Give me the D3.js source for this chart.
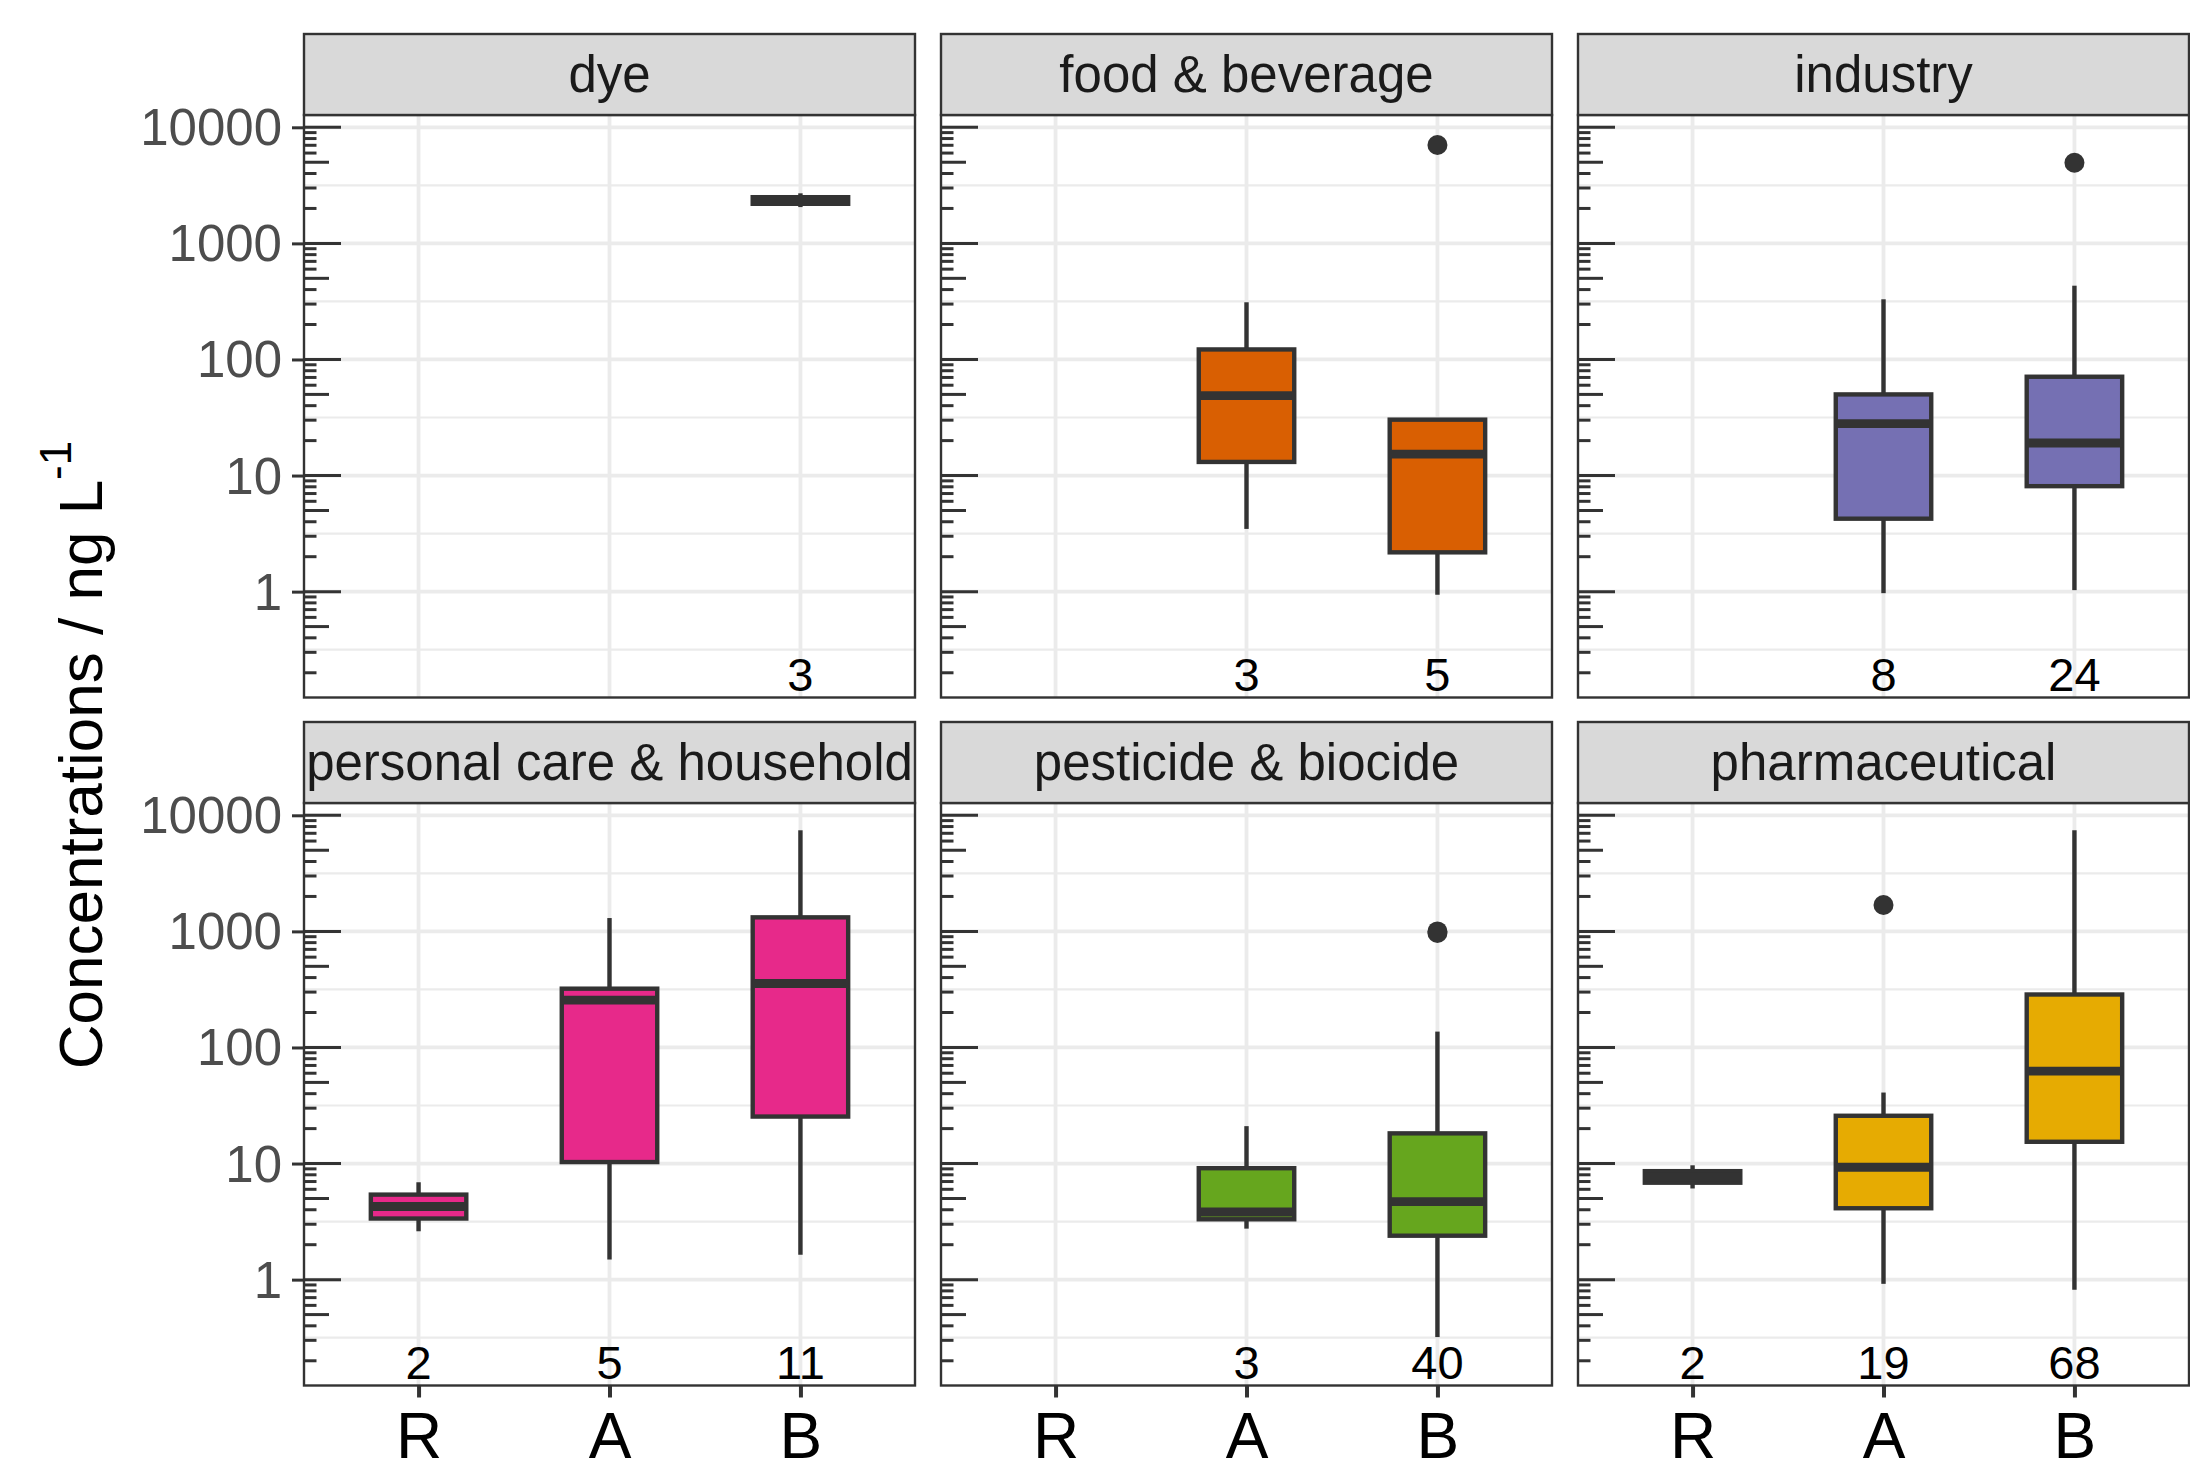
<!DOCTYPE html>
<html>
<head>
<meta charset="utf-8">
<script src="https://cdn.jsdelivr.net/npm/d3@7"></script>
<style>
  html, body { margin: 0; padding: 0; background: #ffffff; }
  svg { display: block; }
</style>
</head>
<body>
<script>
// Facets, sampling sites and colours
const panels = ["dye", "food & beverage", "industry", "personal care & household", "pesticide & biocide", "pharmaceutical"];
const panelColors = ["#1B9E77", "#D95F02", "#7570B3", "#E7298A", "#66A61E", "#E6AB02"];
const sites = ["R", "A", "B"];

// Box statistics for each facet / site group (ng L-1, computed on the log scale)
const groupPanel = ["dye", "food & beverage", "food & beverage", "industry", "industry",
  "personal care & household", "personal care & household", "personal care & household",
  "pesticide & biocide", "pesticide & biocide", "pharmaceutical", "pharmaceutical", "pharmaceutical"];
const groupSite   = ["B", "A", "B", "A", "B", "R", "A", "B", "A", "B", "R", "A", "B"];
const whiskerLow  = [2055, 3.47, 0.94, 0.97, 1.03, 2.61, 1.49, 1.64, 2.75, 0.32, 6.1, 0.92, 0.82];
const quartile1   = [2193, 13.1, 2.18, 4.25, 8.1, 3.36, 10.3, 25.4, 3.31, 2.39, 6.84, 4.12, 15.4];
const medians     = [2340, 48.8, 15.3, 28, 19.1, 4.26, 256, 356, 3.83, 4.70, 7.68, 9.29, 62.5];
const quartile3   = [2500, 122, 30.3, 50, 71, 5.4, 321, 1321, 9.12, 18.2, 8.6, 25.8, 286];
const whiskerHigh = [2700, 311, 30.3, 330, 432, 6.9, 1303, 7430, 21, 137, 9.66, 40.9, 7430];
const outlierValues = [[], [], [7040], [], [4955], [], [], [], [], [1000, 970], [], [1686], []];
const sampleCounts = [3, 3, 5, 8, 24, 2, 5, 11, 3, 40, 2, 19, 68];

// Axis breaks
const majorBreaks = [1, 10, 100, 1000, 10000];
const minorBreaks = [0.3162, 3.162, 31.62, 316.2, 3162];
const tickDecades = [0.1, 1, 10, 100, 1000, 10000];
const tickMultipliers = [1, 2, 3, 4, 5, 6, 7, 8, 9];
const yLimits = [Math.pow(10, -0.912), Math.pow(10, 4.106)];
const countLabelY = 0.195;

const yTitle = "Concentrations / ng L";
const yTitleSup = "-1";

// Layout
const W = 2190, H = 1458;
const FONT = "'Liberation Sans', Arial, Helvetica, sans-serif";
const colX = [304, 941, 1578];
const rowTop = [34, 722];
const stripH = 81;
const panelW = 611, panelH = 582.5;
const dark = "#333333";

const svg = d3.select("body").append("svg")
  .attr("width", W).attr("height", H)
  .attr("viewBox", `0 0 ${W} ${H}`)
  .style("font-family", FONT);

const x = d3.scalePoint().domain(sites).range([0, panelW]).padding(0.6);
const y = d3.scaleLog().domain(yLimits).range([panelH, 0]);
const boxW = x.step() * 0.5;

const logTicks = [];
tickDecades.forEach(d => tickMultipliers.forEach(m => {
  const v = d * m;
  if (v >= yLimits[0] && v <= yLimits[1]) logTicks.push({ v, m });
}));

panels.forEach((name, i) => {
  const col = i % 3, row = Math.floor(i / 3);
  const g = svg.append("g")
    .attr("transform", `translate(${colX[col]},${rowTop[row] + stripH})`);

  g.append("rect").attr("width", panelW).attr("height", panelH).attr("fill", "#ffffff");

  // grid
  g.selectAll(".gmin").data(minorBreaks).join("line")
    .attr("x1", 0).attr("x2", panelW)
    .attr("y1", d => y(d)).attr("y2", d => y(d))
    .attr("stroke", "#EBEBEB").attr("stroke-width", 2.2);
  g.selectAll(".gmaj").data(majorBreaks).join("line")
    .attr("x1", 0).attr("x2", panelW)
    .attr("y1", d => y(d)).attr("y2", d => y(d))
    .attr("stroke", "#EBEBEB").attr("stroke-width", 3.8);
  g.selectAll(".gx").data(sites).join("line")
    .attr("x1", d => x(d)).attr("x2", d => x(d))
    .attr("y1", 0).attr("y2", panelH)
    .attr("stroke", "#EBEBEB").attr("stroke-width", 3.8);

  // log ticks along the left edge
  g.selectAll(".lt").data(logTicks).join("line")
    .attr("x1", 0)
    .attr("x2", d => d.m === 1 ? 37 : (d.m === 5 ? 25 : 12.5))
    .attr("y1", d => y(d.v)).attr("y2", d => y(d.v))
    .attr("stroke", dark).attr("stroke-width", 3);

  // boxplots
  const idx = groupPanel.map((p, k) => p === name ? k : -1).filter(k => k >= 0);
  idx.forEach(k => {
    const cx = x(groupSite[k]);
    g.append("line").attr("x1", cx).attr("x2", cx)
      .attr("y1", y(quartile3[k])).attr("y2", y(whiskerHigh[k]))
      .attr("stroke", dark).attr("stroke-width", 4.4);
    g.append("line").attr("x1", cx).attr("x2", cx)
      .attr("y1", y(quartile1[k])).attr("y2", y(whiskerLow[k]))
      .attr("stroke", dark).attr("stroke-width", 4.4);
    g.append("rect")
      .attr("x", cx - boxW / 2).attr("width", boxW)
      .attr("y", y(quartile3[k])).attr("height", y(quartile1[k]) - y(quartile3[k]))
      .attr("fill", panelColors[i]).attr("stroke", dark).attr("stroke-width", 4.4);
    g.append("line")
      .attr("x1", cx - boxW / 2).attr("x2", cx + boxW / 2)
      .attr("y1", y(medians[k])).attr("y2", y(medians[k]))
      .attr("stroke", dark).attr("stroke-width", 8.9);
    g.selectAll(null).data(outlierValues[k]).join("circle")
      .attr("cx", cx).attr("cy", d => y(d)).attr("r", 10)
      .attr("fill", dark);
    g.append("text")
      .attr("x", cx).attr("y", y(countLabelY))
      .attr("text-anchor", "middle").attr("dominant-baseline", "central")
      .attr("font-size", 47).attr("fill", "#000000")
      .text(sampleCounts[k]);
  });

  // panel border
  g.append("rect").attr("width", panelW).attr("height", panelH)
    .attr("fill", "none").attr("stroke", dark).attr("stroke-width", 2.4);

  // strip
  const s = svg.append("g").attr("transform", `translate(${colX[col]},${rowTop[row]})`);
  s.append("rect").attr("width", panelW).attr("height", stripH)
    .attr("fill", "#D9D9D9").attr("stroke", dark).attr("stroke-width", 2.4);
  s.append("text")
    .attr("x", panelW / 2).attr("y", stripH / 2)
    .attr("text-anchor", "middle").attr("dominant-baseline", "central")
    .attr("font-size", 51).attr("fill", "#1A1A1A")
    .text(name);

  // y axis on the left column
  if (col === 0) {
    const ay = g.append("g").call(
      d3.axisLeft(y).tickValues(majorBreaks).tickFormat(d3.format("d"))
        .tickSize(12).tickPadding(10));
    ay.select(".domain").remove();
    ay.selectAll(".tick line").attr("stroke", dark).attr("stroke-width", 3);
    ay.selectAll(".tick text")
      .attr("font-size", 51).attr("fill", "#4D4D4D")
      .attr("font-family", FONT)
      .attr("dy", null).attr("dominant-baseline", "central");
  }

  // x axis on the bottom row
  if (row === 1) {
    const ax = g.append("g").attr("transform", `translate(0,${panelH})`).call(
      d3.axisBottom(x).tickSize(12).tickPadding(15));
    ax.select(".domain").remove();
    ax.selectAll(".tick line").attr("stroke", dark).attr("stroke-width", 4);
    ax.selectAll(".tick text")
      .attr("font-size", 64).attr("fill", "#000000")
      .attr("font-family", FONT);
  }
});

// y axis title
const t = svg.append("text")
  .attr("transform", "translate(80,755) rotate(-90)")
  .attr("text-anchor", "middle").attr("dominant-baseline", "central")
  .attr("font-size", 62).attr("fill", "#000000");
t.append("tspan").text(yTitle);
t.append("tspan").attr("font-size", 44).attr("dy", -25).text(yTitleSup);
</script>
</body>
</html>
